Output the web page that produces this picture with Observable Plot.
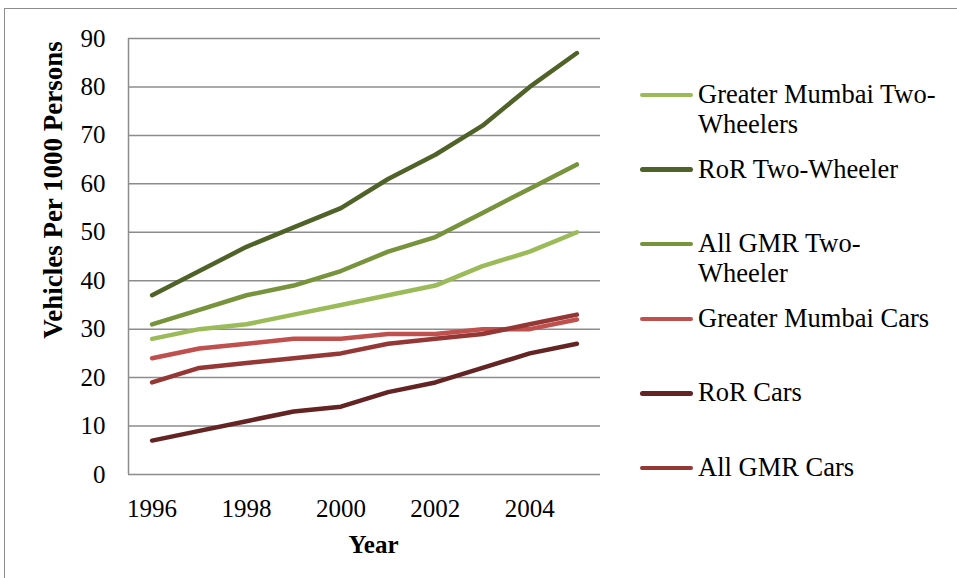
<!DOCTYPE html>
<html>
<head>
<meta charset="utf-8">
<script src="https://cdn.jsdelivr.net/npm/d3@7"></script>
<script src="https://cdn.jsdelivr.net/npm/@observablehq/plot@0.6"></script>
<style>
  html, body { margin: 0; padding: 0; background: #fff; }
  #wrap { position: relative; width: 957px; height: 578px; overflow: hidden;
          font-family: "Liberation Serif", "Times New Roman", serif; color: #000; }
  #border { position: absolute; left: 4px; top: 8px; width: 2000px; height: 2000px;
            border: 1.5px solid #8c8c8c; box-sizing: border-box; }
  #chart { position: absolute; left: 0; top: 0; }
  #ytitle { position: absolute; font-weight: bold; font-size: 27px; white-space: nowrap;
            left: 53px; top: 190px; transform: translate(-50%, -50%) rotate(-90deg); }
  .leg { position: absolute; left: 640px; }
  .leg .sw { position: absolute; left: 0; width: 53px; height: 4.5px; border-radius: 3px; }
  .leg .tx { position: absolute; left: 58px; font-size: 26.5px; line-height: 30px; white-space: pre; }
</style>
</head>
<body>
<div id="wrap">
  <div id="border"></div>
  <div id="chart"></div>
  <div id="ytitle"></div>
  <div id="legend"></div>
</div>
<script>
// ---- data ----
const years = [1996, 1997, 1998, 1999, 2000, 2001, 2002, 2003, 2004, 2005];
const seriesNames = [
  "Greater Mumbai Two-Wheelers",
  "RoR Two-Wheeler",
  "All GMR Two-Wheeler",
  "Greater Mumbai Cars",
  "RoR Cars",
  "All GMR Cars"
];
const legendLabels = [
  "Greater Mumbai Two-\nWheelers",
  "RoR Two-Wheeler",
  "All GMR Two-\nWheeler",
  "Greater Mumbai Cars",
  "RoR Cars",
  "All GMR Cars"
];
const seriesColors = ["#9BBB59", "#4F6228", "#77933C", "#C0504D", "#632423", "#953735"];
const gmTwoWheelers  = [28, 30, 31, 33, 35, 37, 39, 43, 46, 50];
const rorTwoWheeler  = [37, 42, 47, 51, 55, 61, 66, 72, 80, 87];
const gmrTwoWheeler  = [31, 34, 37, 39, 42, 46, 49, 54, 59, 64];
const gmCars         = [24, 26, 27, 28, 28, 29, 29, 30, 30, 32];
const rorCars        = [7, 9, 11, 13, 14, 17, 19, 22, 25, 27];
const gmrCars        = [19, 22, 23, 24, 25, 27, 28, 29, 31, 33];
const seriesValues = [gmTwoWheelers, rorTwoWheeler, gmrTwoWheeler, gmCars, rorCars, gmrCars];
const xTicks = [1996, 1998, 2000, 2002, 2004];
const yTicks = [0, 10, 20, 30, 40, 50, 60, 70, 80, 90];
const yTitle = "Vehicles Per 1000 Persons";
const xTitle = "Year";

// ---- table ----
const rows = [];
seriesNames.forEach((s, i) => {
  years.forEach((yr, j) => rows.push({series: s, year: yr, value: seriesValues[i][j]}));
});

const grid = "#8c8c8c";
const chart = Plot.plot({
  width: 957,
  height: 578,
  marginLeft: 128,
  marginRight: 357,
  marginTop: 38,
  marginBottom: 104,
  style: {fontFamily: '"Liberation Serif", "Times New Roman", serif', fontSize: "25px", color: "#000", background: "transparent"},
  x: {domain: [1995.5, 2005.5], ticks: xTicks, tickFormat: d => String(d), tickSize: 0, tickPadding: 25, label: null},
  y: {domain: [0, 90], ticks: yTicks, tickSize: 0, tickPadding: 23, label: null},
  color: {domain: seriesNames, range: seriesColors},
  marks: [
    Plot.ruleY(yTicks, {stroke: grid, strokeWidth: 1.5}),
    Plot.ruleX([1995.5], {stroke: grid, strokeWidth: 1.5}),
    Plot.line(rows, {x: "year", y: "value", z: "series", stroke: "series",
      strokeWidth: 4.5, strokeLinecap: "round", strokeLinejoin: "round"}),
    Plot.text([xTitle], {frameAnchor: "bottom", text: d => d, dy: 78, dx: 9,
      fontWeight: "bold", fontSize: 25, fill: "#000"})
  ]
});
document.getElementById("chart").appendChild(chart);
document.getElementById("ytitle").textContent = yTitle;

// ---- legend ----
const legend = document.getElementById("legend");
const legTop = 95, legStep = 74.6;
seriesNames.forEach((s, i) => {
  const y = legTop + i * legStep;
  const g = document.createElement("div");
  g.className = "leg";
  g.style.top = y + "px";
  const sw = document.createElement("div");
  sw.className = "sw";
  sw.style.background = seriesColors[i];
  sw.style.top = "-2.25px";
  const tx = document.createElement("div");
  tx.className = "tx";
  tx.style.top = "-16px";
  tx.textContent = legendLabels[i];
  g.appendChild(sw); g.appendChild(tx);
  legend.appendChild(g);
});
</script>
</body>
</html>
